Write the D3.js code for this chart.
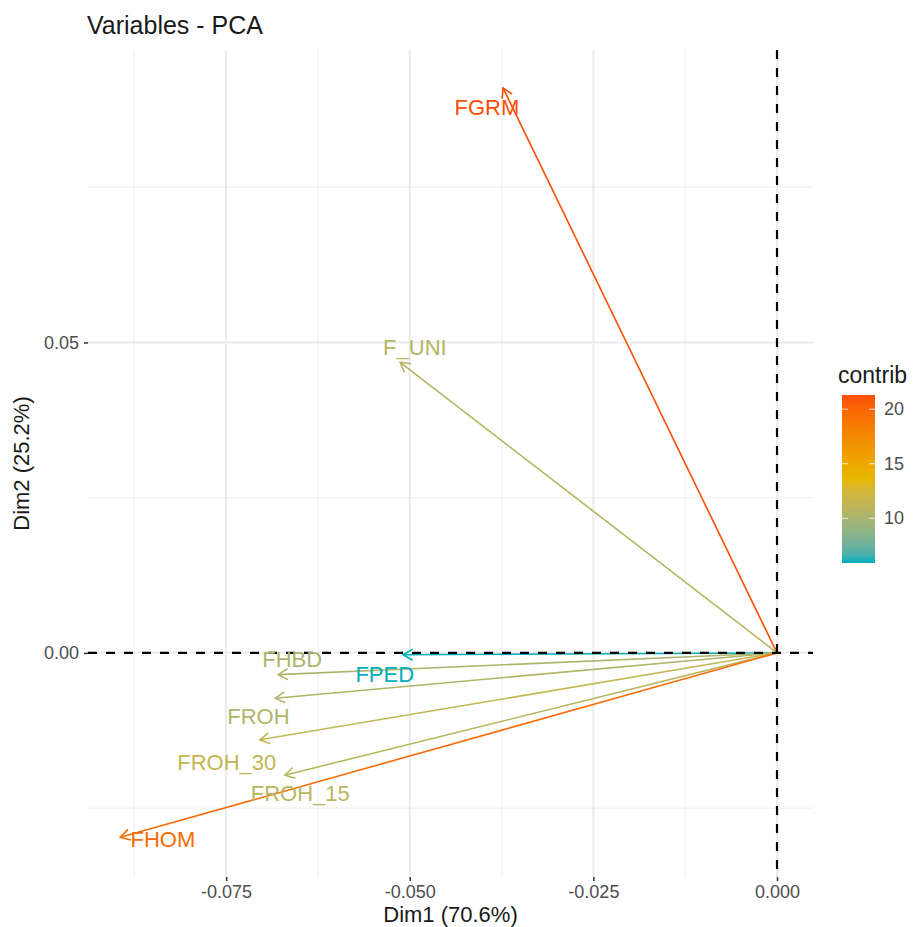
<!DOCTYPE html>
<html>
<head>
<meta charset="utf-8">
<script src="https://cdn.jsdelivr.net/npm/d3@7"></script>
<style>
  body { margin: 0; background: #fff; }
  text { font-family: "Liberation Sans", Arial, sans-serif; }
</style>
</head>
<body>
<div id="chart"></div>
<script>
// variable coordinates on the first two dimensions
const variables = ["FGRM", "F_UNI", "FPED", "FHBD", "FROH", "FROH_30", "FROH_15", "FHOM"];
const dim1 = [-0.0373, -0.0513, -0.0509, -0.0679, -0.0683, -0.0704, -0.0670, -0.0894];
const dim2 = [0.0910, 0.0468, -0.0003, -0.0035, -0.0073, -0.0140, -0.0197, -0.0297];
const contrib = [21.3, 10.6, 5.9, 10.2, 10.4, 11.4, 10.8, 19.6];
// label positions (repelled) in data units
const labelDim1 = [-0.0395, -0.0493, -0.0534, -0.0660, -0.0706, -0.0749, -0.0649, -0.0836];
const labelDim2 = [0.0879, 0.0492, -0.0035, -0.0010, -0.0103, -0.0176, -0.0226, -0.0300];

const xTicks = [-0.075, -0.05, -0.025, 0];
const xMinor = [-0.0875, -0.0625, -0.0375, -0.0125];
const yTicks = [0, 0.05];
const yMinor = [-0.025, 0.025, 0.075];
const legendTicks = [10, 15, 20];
const gradientCols = ["#00AFBB", "#E7B800", "#FC4E07"];

const width = 919, height = 927;
const panel = { left: 88, right: 813, top: 50, bottom: 877 };

const svg = d3.select("#chart").append("svg")
    .attr("width", width)
    .attr("height", height);

const x = d3.scaleLinear().domain([-0.0938, 0.0049]).range([panel.left, panel.right]);
const y = d3.scaleLinear().domain([-0.0361, 0.0971]).range([panel.bottom, panel.top]);

const cExt = d3.extent(contrib);
const color = d3.scaleLinear()
    .domain([cExt[0], (cExt[0] + cExt[1]) / 2, cExt[1]])
    .range(gradientCols)
    .interpolate(d3.interpolateLab);

// ggplot style labels use a plain hyphen for negatives
const fmt = p => v => d3.format(p)(v).replace("\u2212", "-");

// grid
const grid = svg.append("g");
grid.selectAll(".vminor").data(xMinor).enter().append("line")
    .attr("x1", d => x(d)).attr("x2", d => x(d))
    .attr("y1", panel.top).attr("y2", panel.bottom)
    .attr("stroke", "#f2f2f2").attr("stroke-width", 1.2);
grid.selectAll(".hminor").data(yMinor).enter().append("line")
    .attr("y1", d => y(d)).attr("y2", d => y(d))
    .attr("x1", panel.left).attr("x2", panel.right)
    .attr("stroke", "#f2f2f2").attr("stroke-width", 1.2);
grid.selectAll(".vmajor").data(xTicks).enter().append("line")
    .attr("x1", d => x(d)).attr("x2", d => x(d))
    .attr("y1", panel.top).attr("y2", panel.bottom)
    .attr("stroke", "#ebebeb").attr("stroke-width", 2);
grid.selectAll(".hmajor").data(yTicks).enter().append("line")
    .attr("y1", d => y(d)).attr("y2", d => y(d))
    .attr("x1", panel.left).attr("x2", panel.right)
    .attr("stroke", "#ebebeb").attr("stroke-width", 2);

// axes
const xAxis = svg.append("g")
    .attr("transform", `translate(0,${panel.bottom})`)
    .call(d3.axisBottom(x).tickValues(xTicks).tickFormat(fmt(".3f")).tickSize(4).tickPadding(4));
const yAxis = svg.append("g")
    .attr("transform", `translate(${panel.left},0)`)
    .call(d3.axisLeft(y).tickValues(yTicks).tickFormat(fmt(".2f")).tickSize(4).tickPadding(5));
[xAxis, yAxis].forEach(a => {
    a.select(".domain").remove();
    a.selectAll(".tick line").attr("stroke", "#333").attr("stroke-width", 1.5);
    a.selectAll(".tick text").attr("fill", "#4d4d4d").style("font-size", "18px");
});

// arrows
const data = variables.map((v, i) => ({
    name: v, x: dim1[i], y: dim2[i], c: contrib[i], lx: labelDim1[i], ly: labelDim2[i]
}));
const ox = x(0), oy = y(0);
const headLen = 11, headAng = Math.PI / 6;

const arrows = svg.append("g");
data.forEach(d => {
    const tx = x(d.x), ty = y(d.y);
    const a = Math.atan2(ty - oy, tx - ox);
    const col = color(d.c);
    arrows.append("line")
        .attr("x1", ox).attr("y1", oy).attr("x2", tx).attr("y2", ty)
        .attr("stroke", col).attr("stroke-width", 1.6);
    const p1 = [tx - headLen * Math.cos(a - headAng), ty - headLen * Math.sin(a - headAng)];
    const p2 = [tx - headLen * Math.cos(a + headAng), ty - headLen * Math.sin(a + headAng)];
    arrows.append("path")
        .attr("d", `M${p1[0]},${p1[1]}L${tx},${ty}L${p2[0]},${p2[1]}`)
        .attr("fill", "none").attr("stroke", col).attr("stroke-width", 1.6);
});

// reference lines
svg.append("line")
    .attr("x1", panel.left).attr("x2", panel.right)
    .attr("y1", y(0)).attr("y2", y(0))
    .attr("stroke", "#000").attr("stroke-width", 2.2).attr("stroke-dasharray", "9,9");
svg.append("line")
    .attr("y1", panel.top).attr("y2", panel.bottom)
    .attr("x1", x(0)).attr("x2", x(0))
    .attr("stroke", "#000").attr("stroke-width", 2.2).attr("stroke-dasharray", "9,9");

// labels
svg.append("g").selectAll("text").data(data).enter().append("text")
    .attr("x", d => x(d.lx))
    .attr("y", d => y(d.ly))
    .attr("text-anchor", "middle")
    .attr("dominant-baseline", "central")
    .attr("fill", d => color(d.c))
    .style("font-size", "22px")
    .text(d => d.name);

// titles
svg.append("text")
    .attr("x", 87).attr("y", 34)
    .style("font-size", "25px").attr("fill", "#1a1a1a")
    .text("Variables - PCA");
svg.append("text")
    .attr("x", (panel.left + panel.right) / 2).attr("y", 922)
    .attr("text-anchor", "middle")
    .style("font-size", "22px").attr("fill", "#1a1a1a")
    .text("Dim1 (70.6%)");
svg.append("text")
    .attr("transform", `translate(29,${(panel.top + panel.bottom) / 2}) rotate(-90)`)
    .attr("text-anchor", "middle")
    .style("font-size", "22px").attr("fill", "#1a1a1a")
    .text("Dim2 (25.2%)");

// colour bar legend
const bar = { x: 842, w: 33, top: 395, bottom: 563 };
const ly = d3.scaleLinear().domain(cExt).range([bar.bottom, bar.top]);
const defs = svg.append("defs");
const grad = defs.append("linearGradient")
    .attr("id", "cbar").attr("x1", 0).attr("x2", 0).attr("y1", 1).attr("y2", 0);
d3.range(0, 1.0001, 0.05).forEach(t => {
    grad.append("stop")
        .attr("offset", t)
        .attr("stop-color", color(cExt[0] + t * (cExt[1] - cExt[0])));
});
const legend = svg.append("g");
legend.append("text")
    .attr("x", 838).attr("y", 383)
    .style("font-size", "23px").attr("fill", "#1a1a1a")
    .text("contrib");
legend.append("rect")
    .attr("x", bar.x).attr("y", bar.top)
    .attr("width", bar.w).attr("height", bar.bottom - bar.top)
    .attr("fill", "url(#cbar)");
legendTicks.forEach(t => {
    legend.append("line")
        .attr("x1", bar.x).attr("x2", bar.x + 6)
        .attr("y1", ly(t)).attr("y2", ly(t))
        .attr("stroke", "#fff").attr("stroke-width", 1).attr("opacity", 0.8);
    legend.append("line")
        .attr("x1", bar.x + bar.w - 6).attr("x2", bar.x + bar.w)
        .attr("y1", ly(t)).attr("y2", ly(t))
        .attr("stroke", "#fff").attr("stroke-width", 1).attr("opacity", 0.8);
    legend.append("text")
        .attr("x", bar.x + bar.w + 9).attr("y", ly(t))
        .attr("dominant-baseline", "central")
        .style("font-size", "18px").attr("fill", "#4d4d4d")
        .text(t);
});
</script>
</body>
</html>
